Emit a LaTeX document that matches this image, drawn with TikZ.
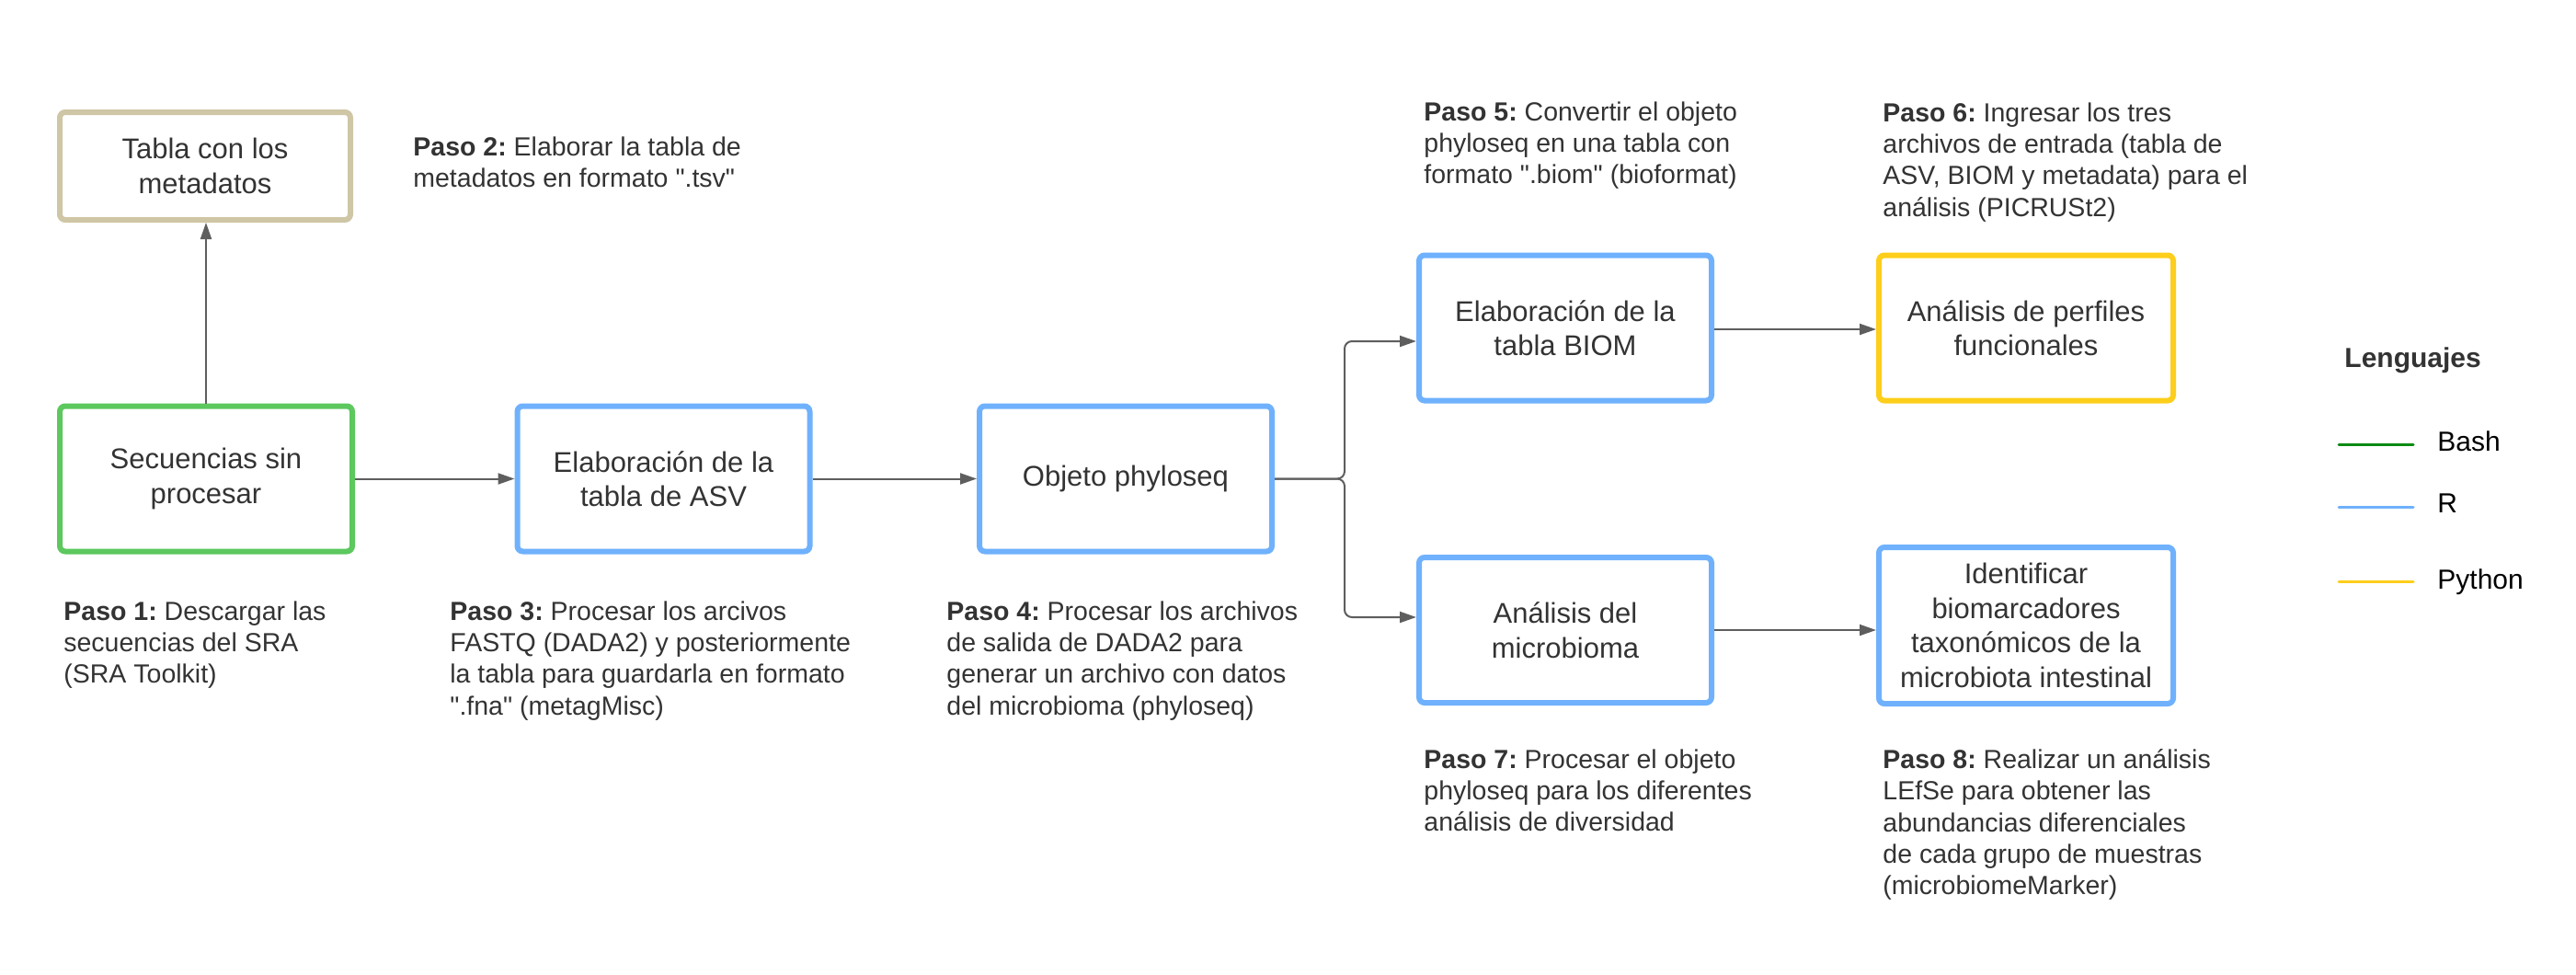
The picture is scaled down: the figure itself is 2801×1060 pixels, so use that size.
\documentclass[tikz,border=0pt]{standalone}
\usepackage{fontspec}
\setmainfont{Liberation Sans}
\usetikzlibrary{arrows.meta}
\definecolor{cgreen}{HTML}{5CC85E}
\definecolor{cblue}{HTML}{6FB1FC}
\definecolor{cyellow}{HTML}{FDCE1B}
\definecolor{ctan}{HTML}{CFC6A6}
\definecolor{cline}{HTML}{5E5E5E}
\definecolor{ctext}{HTML}{333333}
\definecolor{lgreen}{HTML}{0B8A12}
\newcommand{\dq}{\textquotedbl}
\begin{document}
\frenchspacing
\begin{tikzpicture}[x=0.5pt,y=-0.5pt,
  box/.style={draw, line width=3pt, rounded corners=3pt, inner sep=0pt,
    minimum width=159pt, minimum height=79pt, align=center, text=ctext,
    font=\fontsize{15.5}{18.75}\selectfont},
  steptext/.style={anchor=north west, inner sep=0pt, align=left, text=ctext,
    font=\fontsize{14.25}{17.2}\selectfont\frenchspacing},
  conn/.style={draw=cline, line width=1pt, -{Triangle[length=9pt,width=6pt]}},
  legline/.style={line width=1.5pt, line cap=round},
  legtext/.style={anchor=north west, inner sep=0pt, text=black,
    font=\fontsize{15}{18}\selectfont}]
\useasboundingbox (0,0) rectangle (2801,1060);

% boxes
\node[box, draw=ctan, minimum width=158pt, minimum height=58.5pt] (tabla) at (223,180.5) {Tabla con los\\metadatos};
\node[box, draw=cgreen] (sec) at (224,520.5) {Secuencias sin\\procesar};
\node[box, draw=cblue] (asv) at (721.5,520.5) {Elaboración de la\\tabla de ASV};
\node[box, draw=cblue] (obj) at (1224,520.5) {Objeto phyloseq};
\node[box, draw=cblue] (biom) at (1702,356.5) {Elaboración de la\\tabla BIOM};
\node[box, draw=cyellow, minimum width=160pt] (perf) at (2203,356.5) {Análisis de perfiles\\funcionales};
\node[box, draw=cblue] (micro) at (1702,685) {Análisis del\\microbioma};
\node[box, draw=cblue, minimum width=160pt, minimum height=85pt] (iden) at (2203,680) {Identificar\\biomarcadores\\taxonómicos de la\\microbiota intestinal};

% connectors
\draw[conn] (sec.north) -- (sec.north |- tabla.south);
\draw[conn] (sec.east) -- (asv.west);
\draw[conn] (asv.east) -- (obj.west);
\coordinate (j) at (1462,520.5);
\draw[conn, rounded corners=4pt] (obj.east) -- (j) |- ([yshift=-7.25pt]biom.west);
\draw[conn, rounded corners=4pt] (obj.east) -- (j) |- ([yshift=7pt]micro.west);
\draw[conn] ([yshift=-0.75pt]biom.east) -- ([yshift=-0.75pt]perf.west);
\draw[conn] (micro.east) -- (micro.east -| iden.west);

% step texts
\node[steptext] (p1) at (69,653) {\textbf{Paso 1:} Descargar las\\secuencias del SRA\\(SRA Toolkit)};
\node[steptext] (p2) at (449,148) {\textbf{Paso 2:} Elaborar la tabla de\\metadatos en formato \dq.tsv\dq};
\node[steptext] (p3) at (489,653) {\textbf{Paso 3:} Procesar los arcivos\\FASTQ (DADA2) y posteriormente\\la tabla para guardarla en formato\\\dq.fna\dq{} (metagMisc)};
\node[steptext] (p4) at (1029,653) {\textbf{Paso 4:} Procesar los archivos\\de salida de DADA2 para\\generar un archivo con datos\\del microbioma (phyloseq)};
\node[steptext] (p5) at (1548,110) {\textbf{Paso 5:} Convertir el objeto\\phyloseq en una tabla con\\formato \dq.biom\dq{} (bioformat)};
\node[steptext] (p6) at (2047,111) {\textbf{Paso 6:} Ingresar los tres\\archivos de entrada (tabla de\\ASV, BIOM y metadata) para el\\análisis (PICRUSt2)};
\node[steptext] (p7) at (1548,814) {\textbf{Paso 7:} Procesar el objeto\\phyloseq para los diferentes\\análisis de diversidad};
\node[steptext] (p8) at (2047,814) {\textbf{Paso 8:} Realizar un análisis\\LEfSe para obtener las\\abundancias diferenciales\\de cada grupo de muestras\\(microbiomeMarker)};

% legend
\node[legtext, text=ctext, font=\bfseries\fontsize{15}{18}\selectfont] (leyenda) at (2549,377) {Lenguajes};
\node[legtext] (lbash) at (2650,468) {Bash};
\node[legtext] (lr) at (2650,536) {R};
\node[legtext] (lpy) at (2650,618) {Python};
\coordinate (b1) at (2543,483); \coordinate (b2) at (2624,483);
\coordinate (r1) at (2543,551); \coordinate (r2) at (2624,551);
\coordinate (y1) at (2543,632); \coordinate (y2) at (2624,632);
\draw[legline, draw=lgreen] (b1) -- (b2);
\draw[legline, draw=cblue] (r1) -- (r2);
\draw[legline, draw=cyellow] (y1) -- (y2);
\end{tikzpicture}
\end{document}
